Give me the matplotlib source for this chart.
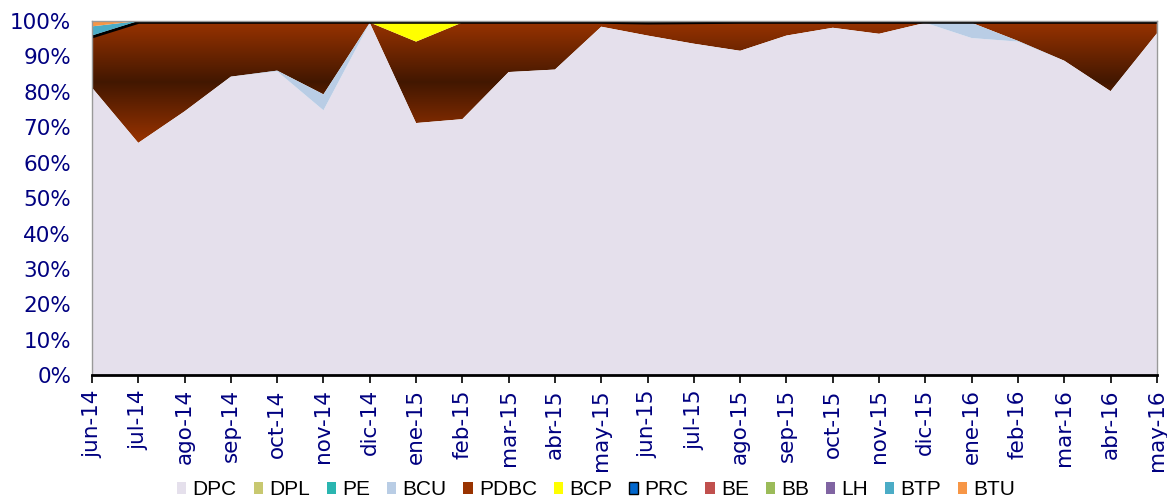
import numpy as np
import matplotlib.pyplot as plt
from matplotlib.patches import Patch, PathPatch
from matplotlib.colors import LinearSegmentedColormap

months = ['jun-14', 'jul-14', 'ago-14', 'sep-14', 'oct-14', 'nov-14', 'dic-14',
          'ene-15', 'feb-15', 'mar-15', 'abr-15', 'may-15', 'jun-15', 'jul-15',
          'ago-15', 'sep-15', 'oct-15', 'nov-15', 'dic-15', 'ene-16', 'feb-16',
          'mar-16', 'abr-16', 'may-16']

# shares in % of each product per month (bottom to top)
DPC = [81.2, 65.6, 74.5, 84.3, 85.8, 74.8, 99.5, 71.2, 72.3, 85.6, 86.3, 98.4,
       95.9, 93.6, 91.6, 95.9, 98.1, 96.4, 99.5, 95.2, 94.2, 88.8, 80.2, 96.5]
DPL = [0.0] * 24
PE = [0.0] * 24
BCU = [0, 0, 0, 0, 0.2, 4.5, 0, 0, 0, 0, 0, 0,
       0, 0, 0, 0, 0, 0, 0, 4.3, 0.2, 0, 0, 0]
PDBC = [14.3, 34.0, 25.1, 15.3, 13.6, 20.3, 0.1, 23.0, 27.3, 14.0, 13.3, 1.2,
        3.5, 5.9, 8.0, 3.7, 1.5, 3.2, 0.1, 0.1, 5.2, 10.8, 19.4, 3.1]
BCP = [0, 0, 0, 0, 0, 0, 0, 5.4, 0, 0, 0, 0,
       0, 0, 0, 0, 0, 0, 0, 0, 0, 0, 0, 0]
PRC = [0.4, 0.4, 0.4, 0.4, 0.4, 0.4, 0.4, 0.4, 0.4, 0.4, 0.4, 0.4,
       0.6, 0.5, 0.4, 0.4, 0.4, 0.4, 0.4, 0.4, 0.4, 0.4, 0.4, 0.4]
BE = [0.0] * 24
BB = [0.0] * 24
LH = [0.0] * 24
BTP = [2.6, 0, 0, 0, 0, 0, 0, 0, 0, 0, 0, 0,
       0, 0, 0, 0, 0, 0, 0, 0, 0, 0, 0, 0]
BTU = [1.5, 0, 0, 0, 0, 0, 0, 0, 0, 0, 0, 0,
       0, 0, 0, 0, 0, 0, 0, 0, 0, 0, 0, 0]

names = ['DPC', 'DPL', 'PE', 'BCU', 'PDBC', 'BCP', 'PRC', 'BE', 'BB', 'LH', 'BTP', 'BTU']
series = [DPC, DPL, PE, BCU, PDBC, BCP, PRC, BE, BB, LH, BTP, BTU]
colors = ['#e5e0ec', '#c8c870', '#2ab5b0', '#b9cde5', '#993300', '#ffff00',
          '#0066cc', '#c0504d', '#9bbb59', '#8064a2', '#4bacc6', '#f79646']
navy = '#000080'

fig = plt.figure(figsize=(11.67, 5.01), dpi=100)
ax = fig.add_axes([0.0788, 0.251, 0.9125, 0.707])

x = np.arange(len(months))
base = np.zeros(len(months))
for name, vals, col in zip(names, series, colors):
    vals = np.array(vals, dtype=float)
    top = base + vals
    if name == 'PDBC':
        # vertical gradient fill, light-dark-light like the original
        poly = ax.fill_between(x, base, top, facecolor='none', edgecolor='none')
        clip = PathPatch(poly.get_paths()[0], transform=ax.transData,
                         facecolor='none', edgecolor='none')
        ax.add_patch(clip)
        cmap = LinearSegmentedColormap.from_list('pdbc', ['#993300', '#421700', '#993300'])
        grad = np.linspace(0, 1, 256).reshape(-1, 1)
        ymin = base[vals > 0.5].min()
        im = ax.imshow(grad, cmap=cmap, aspect='auto', origin='lower',
                       extent=[x[0], x[-1], ymin, 100], zorder=1)
        im.set_clip_path(clip)
    elif name == 'PRC':
        ax.fill_between(x, base, top, facecolor='#555555', edgecolor='black', linewidth=1.2, zorder=2)
    else:
        ax.fill_between(x, base, top, facecolor=col, edgecolor='none', zorder=2)
    base = top

ax.set_xlim(0, len(months) - 1)
ax.set_ylim(0, 100)
ax.set_yticks(range(0, 101, 10))
ax.set_yticklabels([f'{v}%' for v in range(0, 101, 10)])
ax.set_xticks(x)
ax.set_xticklabels(months, rotation=90)
ax.tick_params(axis='y', length=0, pad=15, labelsize=15.5, labelcolor=navy)
ax.tick_params(axis='x', length=6, width=1.2, pad=4, labelsize=15.5, labelcolor=navy)

for s in ['top', 'right', 'left']:
    ax.spines[s].set_color('#999999')
    ax.spines[s].set_linewidth(1)
ax.spines['bottom'].set_color('black')
ax.spines['bottom'].set_linewidth(2)

handles = []
for name, col in zip(names, colors):
    ec = 'black' if name == 'PRC' else 'none'
    handles.append(Patch(facecolor=col, edgecolor=ec, label=name))
fig.legend(handles=handles, loc='center', ncol=12, frameon=False,
           bbox_to_anchor=(0.511, 0.022), handlelength=0.45, handleheight=0.45,
           handletextpad=0.3, columnspacing=0.8, borderpad=0,
           prop={'family': 'Liberation Sans', 'size': 15})

fig.savefig('out.png', dpi=100)
